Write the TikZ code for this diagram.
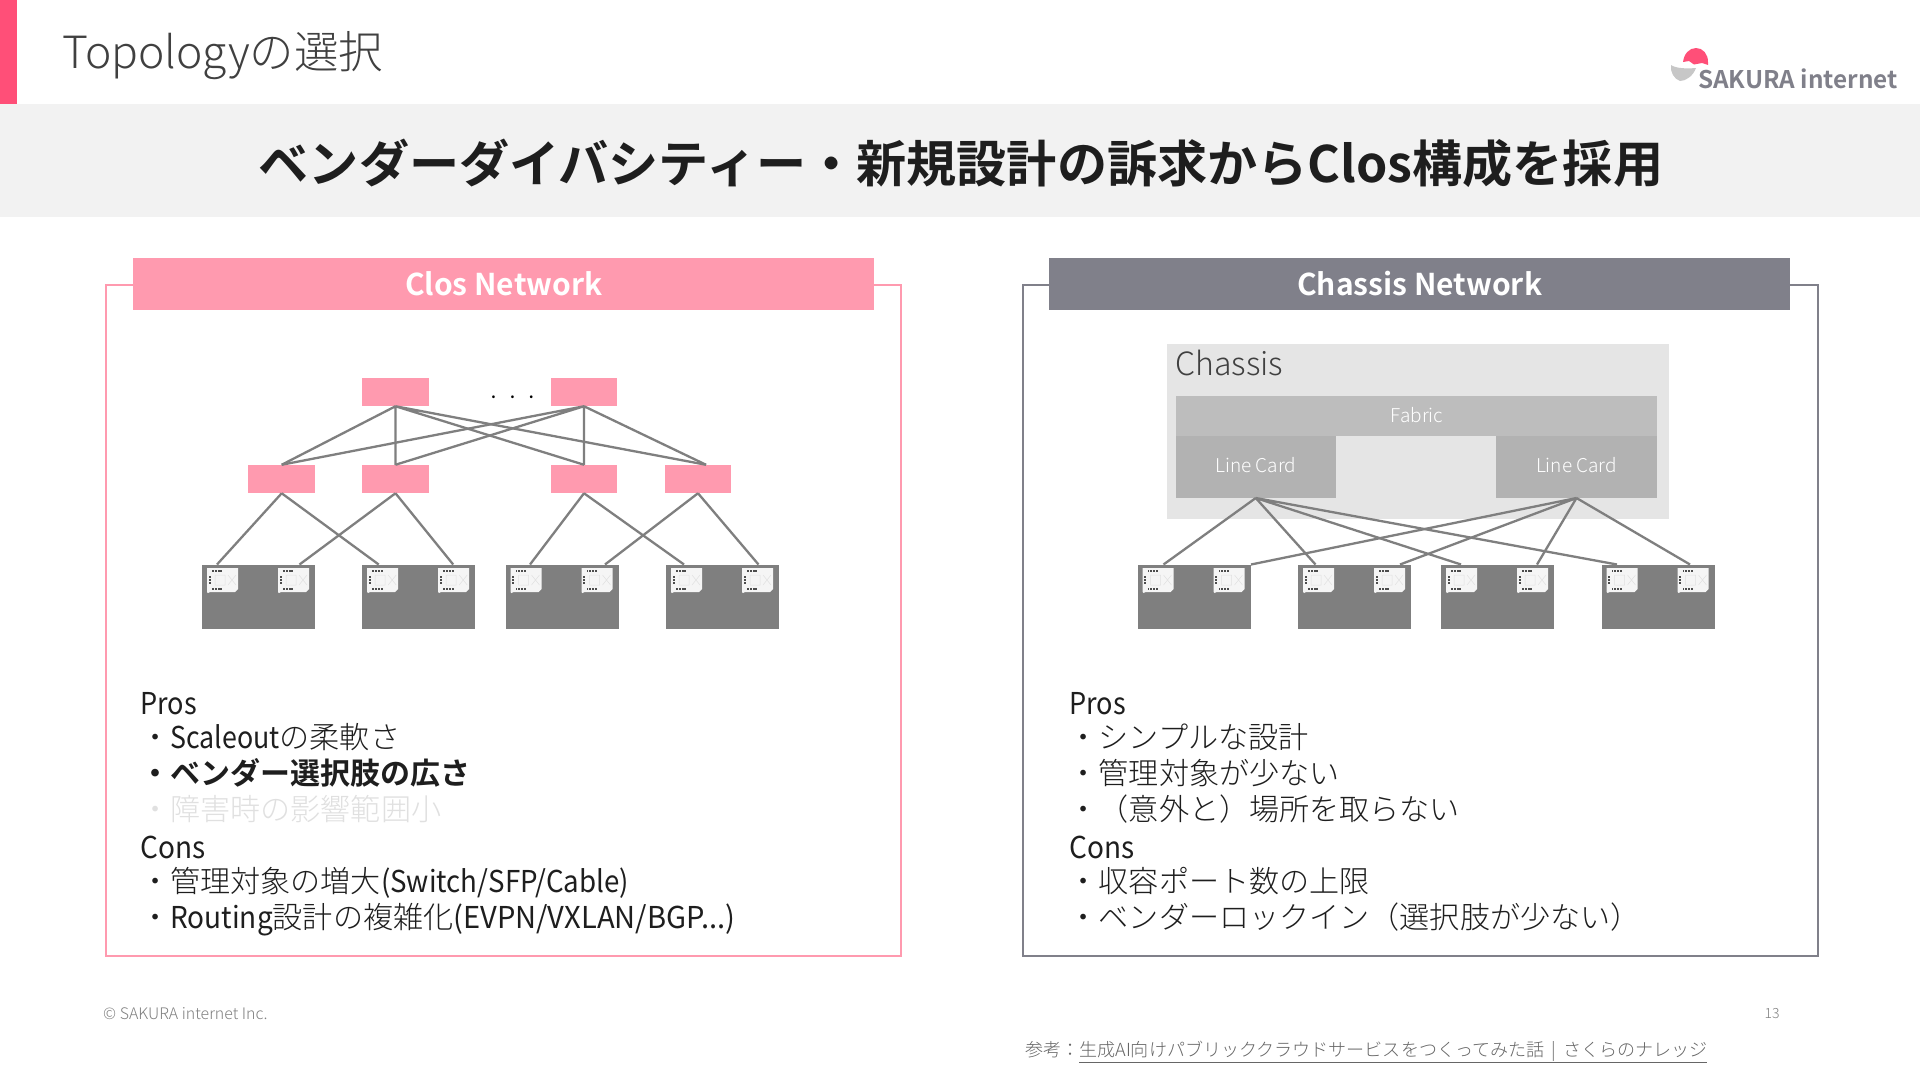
\documentclass[tikz,border=0pt]{standalone}
\usepackage{graphicx}
\usepackage{fontspec}
\setmainfont{Noto Sans CJK JP}
\newfontfamily\jplight{Noto Sans CJK JP Light}
\newfontfamily\jpbold{Noto Sans CJK JP Bold}
\newcommand{\fsz}[1]{\fontsize{#1}{#1}\selectfont}
\newcommand{\lat}[2]{\scalebox{#1}[1]{\rmfamily #2}}
\definecolor{accent}{HTML}{FF4F78}
\definecolor{band}{HTML}{F2F2F2}
\definecolor{rose}{HTML}{FF9AAF}
\definecolor{slate}{HTML}{80808A}
\definecolor{wire}{HTML}{7F7F7F}
\definecolor{srv}{HTML}{7F7F7F}
\definecolor{ink}{HTML}{1E1E1E}
\tikzset{
  x=1pt,y=-1pt,
  flat/.style={inner sep=0pt,outer sep=0pt,draw=none,rectangle},
  panelbox/.style={flat,draw=#1,line width=2pt,fill=none},
  headbox/.style={flat,fill=#1,minimum width=741,minimum height=52,text=white,font=\jpbold\fsz{30}},
  pinkbox/.style={flat,fill=rose,minimum width=66.5,minimum height=28.5},
  srvbox/.style={flat,fill=srv,minimum width=113,minimum height=64},
  wirel/.style={draw=wire,line width=2.3pt},
  tline/.style={inner sep=0pt,anchor=base west,text=ink,font=\jplight\fsz{30.1}},
  nic/.pic={
    \fill[black!4] (0,0) -- (31,0) -- (31,21) -- (28,24) -- (3,24) -- (1,25) -- (0,24) -- cycle;
    \draw[black!12,line width=.5pt] (8,7) rectangle (18,17) (21,7) -- (29,17) (29,7) -- (21,17);
    \foreach \k in {0,2.8,5.6,8.4} {
      \fill[black!70] (5+\k,2.4) rectangle ++(1.9,1.9);
      \fill[black!70] (5+\k,19.8) rectangle ++(1.9,1.9);
    }
    \foreach \k in {0,3,6} \fill[black!70] (1.6+0,8+\k) rectangle ++(1.9,1.9);
  }
}
\newcommand{\srvnode}[2]{% name, centre x
  \node[srvbox] (#1) at (#2,596.5) {};
  \pic at ([xshift=5pt,yshift=-3.5pt]#1.north west) {nic};
  \pic at ([xshift=76pt,yshift=-3.5pt]#1.north west) {nic};
}
\begin{document}
\begin{tikzpicture}
\useasboundingbox (0,0) rectangle (1920,1080);
\fill[white] (0,0) rectangle (1920,1080);
% header
\node[flat,fill=band,minimum width=1920,minimum height=113,anchor=north west] (bandbox) at (0,104) {};
\node[flat,fill=accent,minimum width=16.5,minimum height=104,anchor=north west] (bar) at (0,0) {};
\node[inner sep=0pt,anchor=base west,text=black!75,font=\jplight\fsz{44.4}] (title) at (62,68) {Topologyの選択};
\node[inner sep=0pt,anchor=center,text=ink,font=\jpbold\fsz{50.15}] (main) at (961,163) {ベンダーダイバシティー・新規設計の訴求からClos構成を採用};
% logo
\fill[accent] (1683,62) .. controls (1684,54) and (1689,48) .. (1696,48) .. controls (1703,48) and (1708,54) .. (1708,62) -- (1708,65) -- (1702,63) -- (1694,64.5) -- (1689,61) -- cycle;
\fill[black!22] (1671,65) .. controls (1675,68) and (1685,69) .. (1696,68) .. controls (1693,76) and (1686,81) .. (1680,81) .. controls (1674,79) and (1670,72) .. (1671,65) -- cycle;
\node[inner sep=0pt,anchor=base west,text=slate,font=\jpbold\fsz{24.3}] (logo) at (1698,88) {SAKURA internet};
% panels
\node[panelbox=rose,minimum width=795,minimum height=671,anchor=north west] (lpanel) at (105.5,285) {};
\node[panelbox=slate,minimum width=795,minimum height=671,anchor=north west] (rpanel) at (1022.5,285) {};
\node[headbox=rose] (lhead) at (503.7,284) {Clos Network};
\node[headbox=slate] (rhead) at (1419.7,284) {Chassis Network};
% Clos
\node[pinkbox] (t1) at (395.5,392) {};
\node[pinkbox] (t2) at (584,392) {};
\node[inner sep=0pt,font=\jpbold\fsz{15},text=black] (dots) at (512.5,397) {.\hspace{14pt}.\hspace{14pt}.};
\node[pinkbox] (m1) at (281.7,479) {};
\node[pinkbox] (m2) at (395.5,479) {};
\node[pinkbox] (m3) at (584,479) {};
\node[pinkbox] (m4) at (698,479) {};
\coordinate (m4in) at ([xshift=8pt]m4.north);
\srvnode{a1}{258.5}
\srvnode{a2}{418.7}
\srvnode{a3}{562}
\srvnode{a4}{722.5}
\coordinate (a1l) at ([xshift=-41.5pt]a1.north);
\coordinate (a1r) at ([xshift=41pt]a1.north);
\coordinate (a2l) at ([xshift=-40pt]a2.north);
\coordinate (a2r) at ([xshift=34.5pt]a2.north);
\coordinate (a3l) at ([xshift=-32pt]a3.north);
\coordinate (a3r) at ([xshift=43pt]a3.north);
\coordinate (a4l) at ([xshift=-38.5pt]a4.north);
\coordinate (a4r) at ([xshift=36pt]a4.north);
\draw[wirel] (t1.south) -- (m1.north) (t1.south) -- (m2.north) (t1.south) -- (m3.north) (t1.south) -- (m4in);
\draw[wirel] (t2.south) -- (m1.north) (t2.south) -- (m2.north) (t2.south) -- (m3.north) (t2.south) -- (m4in);
\draw[wirel] (m1.south) -- (a1l) (m1.south) -- (a2l) (m2.south) -- (a1r) (m2.south) -- (a2r);
\draw[wirel] (m3.south) -- (a3l) (m3.south) -- (a4l) (m4.south) -- (a3r) (m4.south) -- (a4r);
% Chassis
\node[flat,fill=black!10,minimum width=502,minimum height=175,anchor=north west] (chassis) at (1167,344) {};
\node[inner sep=0pt,anchor=base west,text=black!75,font=\jplight\fsz{32}] (chassislbl) at (1175,375.5) {Chassis};
\node[flat,fill=black!26,minimum width=481.5,minimum height=40.5,anchor=north west] (fabric) at (1175.5,395.5) {};
\node[inner sep=0pt,text=white,font=\jplight\fsz{19}] (fabriclbl) at (1417,415) {Fabric};
\node[flat,fill=black!30,minimum width=160.5,minimum height=62,anchor=north west] (lc1) at (1175.5,436) {};
\node[flat,fill=black!30,minimum width=161,minimum height=62,anchor=north west] (lc2) at (1496,436) {};
\node[inner sep=0pt,text=white,font=\jplight\fsz{19}] (lc1lbl) at (1255.75,465) {Line Card};
\node[inner sep=0pt,text=white,font=\jplight\fsz{19}] (lc2lbl) at (1576.5,465) {Line Card};
\srvnode{b1}{1194}
\srvnode{b2}{1354.5}
\srvnode{b3}{1497.5}
\srvnode{b4}{1658}
\coordinate (b1l) at ([xshift=-30.5pt]b1.north);
\coordinate (b1r) at ([xshift=57pt]b1.north);
\coordinate (b2l) at ([xshift=-39pt]b2.north);
\coordinate (b2r) at ([xshift=45.5pt]b2.north);
\coordinate (b3l) at ([xshift=-36.5pt]b3.north);
\coordinate (b3r) at ([xshift=39.5pt]b3.north);
\coordinate (b4l) at ([xshift=-41pt]b4.north);
\coordinate (b4r) at ([xshift=32pt]b4.north);
\draw[wirel] (lc1.south) -- (b1l) (lc1.south) -- (b2l) (lc1.south) -- (b3l) (lc1.south) -- (b4l);
\draw[wirel] (lc2.south) -- (b1r) (lc2.south) -- (b2r) (lc2.south) -- (b3r) (lc2.south) -- (b4r);
% left text
\node[tline] (lp) at (140,714) {\lat{0.9}{Pros}};
\node[tline] (lp1) at (140,748) {・\lat{0.89}{Scaleout}の柔軟さ};
\node[tline,font=\jpbold\fsz{30}] (lp2) at (140,784) {・ベンダー選択肢の広さ};
\node[tline,text=black!12] (lp3) at (140,820) {・障害時の影響範囲小};
\node[tline] (lc) at (140,858) {\lat{0.93}{Cons}};
\node[tline] (lc1t) at (140,892) {・管理対象の増大\lat{0.92}{(Switch/SFP/Cable)}};
\node[tline] (lc2t) at (140,928) {・\lat{0.93}{Routing}設計の複雑化\lat{0.966}{(EVPN/VXLAN/BGP...)}};
% right text
\node[tline] (rp) at (1069,714) {\lat{0.9}{Pros}};
\node[tline] (rp1) at (1068.5,748) {・シンプルな設計};
\node[tline] (rp2) at (1068.5,784) {・管理対象が少ない};
\node[tline] (rp3) at (1068.5,820) {・（意外と）場所を取らない};
\node[tline] (rc) at (1069,858) {\lat{0.93}{Cons}};
\node[tline] (rc1) at (1068.5,892) {・収容ポート数の上限};
\node[tline] (rc2) at (1068.5,928) {・ベンダーロックイン（選択肢が少ない）};
% footer
\node[inner sep=0pt,anchor=base west,text=black!50,font=\jplight\fsz{15.9}] (copy) at (103,1019) {© SAKURA internet Inc.};
\node[inner sep=0pt,anchor=base,text=black!50,font=\jplight\fsz{14}] (page) at (1772,1018) {13};
\node[inner sep=0pt,anchor=base west,text=black!60,font=\jplight\fsz{18.05}] (ref) at (1025,1056) {参考：\underline{生成AI向けパブリッククラウドサービスをつくってみた話\hspace{3pt} | \hspace{3pt}さくらのナレッジ}};
\end{tikzpicture}
\end{document}
